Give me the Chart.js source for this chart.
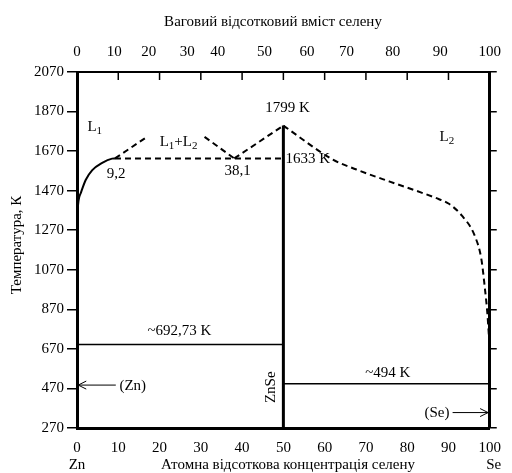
<!DOCTYPE html>
<html>
<head>
<meta charset="utf-8">
<script src="https://cdn.jsdelivr.net/npm/chart.js@4.4.0/dist/chart.umd.min.js"></script>
<style>
    html, body { margin: 0; padding: 0; background: #fff; }
</style>
</head>
<body>
<canvas id="myChart" width="512" height="473"></canvas>
<script>
// axis ticks
const tempTicks = [270, 470, 670, 870, 1070, 1270, 1470, 1670, 1870, 2070];
const atomicTicks = [0, 10, 20, 30, 40, 50, 60, 70, 80, 90, 100];
const weightLabels = ['0', '10', '20', '30', '40', '50', '60', '70', '80', '90', '100'];
const weightLabelPos = [0, 9, 17.4, 26.7, 34.1, 45.4, 55.7, 65.3, 76.5, 88, 100];

// liquidus on the Zn side (solid)
const znLiqX = [0, 0.1, 0.9, 2.1, 3.7, 6.1, 8.5, 9.2];
const znLiqY = [1254, 1356, 1457, 1524, 1574, 1611, 1632, 1633];

// monotectic line
const monoX = [9.2, 50];
const monoY = [1633, 1633];

// miscibility gap dome (broken where the label sits)
const domeX = [9.2, 16.6, 24, 30.9, 38.1];
const domeY = [1633, 1737, null, 1742, 1633];

// ZnSe liquidus, left and right branches
const znseLeftX = [38.1, 50];
const znseLeftY = [1633, 1799];
const znseRightX = [50, 62, 67.7, 75.6, 83.6, 87.6, 90, 93.2, 96.4, 98, 98.8, 99.4, 99.8];
const znseRightY = [1799, 1627, 1577, 1517, 1459, 1428, 1405, 1345, 1240, 1120, 980, 855, 735];

// compound line and eutectics
const znseLineX = [50, 50];
const znseLineY = [270, 1799];
const eutZnX = [0, 50];
const eutZnY = [692.73, 692.73];
const eutSeX = [50, 100];
const eutSeY = [494, 494];

// text annotations in data units: [text parts, x, y, align]
const notes = [
    [[['L', 0], ['1', 1]], 4.3, 1790, 'center'],
    [[['L', 0], ['1', 1], ['+L', 0], ['2', 1]], 24.6, 1717, 'center'],
    [[['9,2', 0]], 9.5, 1553, 'center'],
    [[['38,1', 0]], 38.9, 1568, 'center'],
    [[['1799 K', 0]], 51, 1889, 'center'],
    [[['1633 K', 0]], 50.5, 1631, 'left'],
    [[['L', 0], ['2', 1]], 89.6, 1743, 'center'],
    [[['~692,73 K', 0]], 24.8, 758, 'center'],
    [[['~494 K', 0]], 75.3, 548, 'center'],
    [[['(Zn)', 0]], 13.5, 480, 'center'],
    [[['(Se)', 0]], 87.2, 346, 'center']
];
// arrows: from, to
const arrows = [
    [9.4, 487, 0.3, 487],
    [91, 348, 99.6, 348]
];

const FONT = "'Liberation Serif', 'DejaVu Serif', serif";

function zip(xs, ys) {
    return xs.map((x, i) => ({ x: x, y: ys[i] }));
}

function line(label, xs, ys, opts) {
    return Object.assign({
        label: label,
        data: zip(xs, ys),
        showLine: true,
        borderColor: '#000',
        borderWidth: 2,
        pointRadius: 0,
        fill: false,
        spanGaps: false
    }, opts);
}

function drawParts(ctx, parts, x, y, align) {
    let w = 0;
    parts.forEach(p => {
        ctx.font = (p[1] ? '11px ' : '15px ') + FONT;
        w += ctx.measureText(p[0]).width;
    });
    let cx = align === 'center' ? x - w / 2 : x;
    parts.forEach(p => {
        ctx.font = (p[1] ? '11px ' : '15px ') + FONT;
        ctx.textAlign = 'left';
        ctx.textBaseline = 'middle';
        ctx.fillText(p[0], cx, p[1] ? y + 4 : y);
        cx += ctx.measureText(p[0]).width;
    });
}

const decor = {
    id: 'decor',
    afterDraw(chart) {
        const ctx = chart.ctx;
        const xs = chart.scales.x;
        const ys = chart.scales.y;
        const area = chart.chartArea;
        ctx.save();
        ctx.fillStyle = '#000';
        ctx.strokeStyle = '#000';

        // inward tick marks on the top axis
        ctx.lineWidth = 1.5;
        atomicTicks.forEach(v => {
            const px = xs.getPixelForValue(v);
            ctx.beginPath();
            ctx.moveTo(px, area.top);
            ctx.lineTo(px, area.top + 8);
            ctx.stroke();
        });

        notes.forEach(n => {
            drawParts(ctx, n[0], xs.getPixelForValue(n[1]), ys.getPixelForValue(n[2]), n[3]);
        });

        // ZnSe vertical label
        ctx.save();
        ctx.translate(xs.getPixelForValue(47.1), ys.getPixelForValue(476));
        ctx.rotate(-Math.PI / 2);
        ctx.font = '15px ' + FONT;
        ctx.textAlign = 'center';
        ctx.textBaseline = 'middle';
        ctx.fillText('ZnSe', 0, 0);
        ctx.restore();

        // arrows
        ctx.lineWidth = 1;
        arrows.forEach(a => {
            const x1 = xs.getPixelForValue(a[0]), y1 = ys.getPixelForValue(a[1]);
            const x2 = xs.getPixelForValue(a[2]), y2 = ys.getPixelForValue(a[3]);
            const dir = Math.sign(x2 - x1);
            ctx.beginPath();
            ctx.moveTo(x1, y1);
            ctx.lineTo(x2, y2);
            ctx.moveTo(x2 - dir * 8, y2 - 4);
            ctx.lineTo(x2, y2);
            ctx.lineTo(x2 - dir * 8, y2 + 4);
            ctx.stroke();
        });

        // axis titles and element names
        ctx.font = '15px ' + FONT;
        ctx.textAlign = 'center';
        ctx.textBaseline = 'middle';
        ctx.fillText('Ваговий відсотковий вміст селену', 273, 22);
        ctx.fillText('Атомна відсоткова концентрація селену', 288, 465);
        ctx.fillText('Zn', xs.getPixelForValue(0), 465);
        ctx.fillText('Se', xs.getPixelForValue(100) + 4, 465);

        ctx.save();
        ctx.translate(17, 245);
        ctx.rotate(-Math.PI / 2);
        ctx.fillText('Температура, К', 0, 0);
        ctx.restore();

        ctx.restore();
    }
};

const dash = [6, 4];

const ctx = document.getElementById('myChart').getContext('2d');
const myChart = new Chart(ctx, {
    type: 'scatter',
    data: {
        datasets: [
            line('Zn liquidus', znLiqX, znLiqY, { cubicInterpolationMode: 'monotone' }),
            line('monotectic', monoX, monoY, { borderDash: dash }),
            line('dome', domeX, domeY, { borderDash: dash }),
            line('ZnSe left', znseLeftX, znseLeftY, { borderDash: dash }),
            line('ZnSe right', znseRightX, znseRightY, { borderDash: dash, cubicInterpolationMode: 'monotone' }),
            line('ZnSe', znseLineX, znseLineY, { borderWidth: 3 }),
            line('eutectic Zn', eutZnX, eutZnY, { borderWidth: 1.5 }),
            line('eutectic Se', eutSeX, eutSeY, { borderWidth: 1.5 })
        ]
    },
    options: {
        responsive: false,
        animation: false,
        layout: { padding: 0 },
        plugins: {
            legend: { display: false },
            tooltip: { enabled: false }
        },
        scales: {
            x: {
                type: 'linear',
                position: 'bottom',
                min: 0,
                max: 100,
                afterBuildTicks: (s) => { s.ticks = atomicTicks.map(v => ({ value: v })); },
                afterFit: (s) => { s.height = 45; },
                grid: { drawOnChartArea: false, drawTicks: false },
                border: { display: true, width: 3, color: '#000' },
                ticks: {
                    color: '#000',
                    padding: 11,
                    maxRotation: 0,
                    font: { family: FONT, size: 15 },
                    callback: (v) => String(v)
                }
            },
            x2: {
                type: 'linear',
                position: 'top',
                min: 0,
                max: 100,
                afterBuildTicks: (s) => { s.ticks = weightLabelPos.map(v => ({ value: v })); },
                afterFit: (s) => { s.height = 72; },
                grid: { drawOnChartArea: false, drawTicks: false },
                border: { display: true, width: 2, color: '#000' },
                ticks: {
                    color: '#000',
                    padding: 11,
                    maxRotation: 0,
                    font: { family: FONT, size: 15 },
                    callback: (v, i) => weightLabels[i]
                }
            },
            y: {
                type: 'linear',
                position: 'left',
                min: 270,
                max: 2070,
                afterBuildTicks: (s) => { s.ticks = tempTicks.map(v => ({ value: v })); },
                afterFit: (s) => { s.width = 77; },
                grid: { drawOnChartArea: false, drawTicks: true, tickLength: 10, color: '#000', lineWidth: 1.5 },
                border: { display: true, width: 3, color: '#000' },
                ticks: {
                    color: '#000',
                    padding: 3,
                    font: { family: FONT, size: 15 },
                    callback: (v) => String(v)
                }
            },
            y2: {
                type: 'linear',
                position: 'right',
                min: 270,
                max: 2070,
                afterBuildTicks: (s) => { s.ticks = tempTicks.map(v => ({ value: v })); },
                afterFit: (s) => { s.width = 16; },
                grid: { drawOnChartArea: false, drawTicks: true, tickLength: 7, color: '#000', lineWidth: 1.5 },
                border: { display: true, width: 3, color: '#000' },
                ticks: { display: false }
            }
        }
    },
    plugins: [decor]
});
</script>
</body>
</html>
